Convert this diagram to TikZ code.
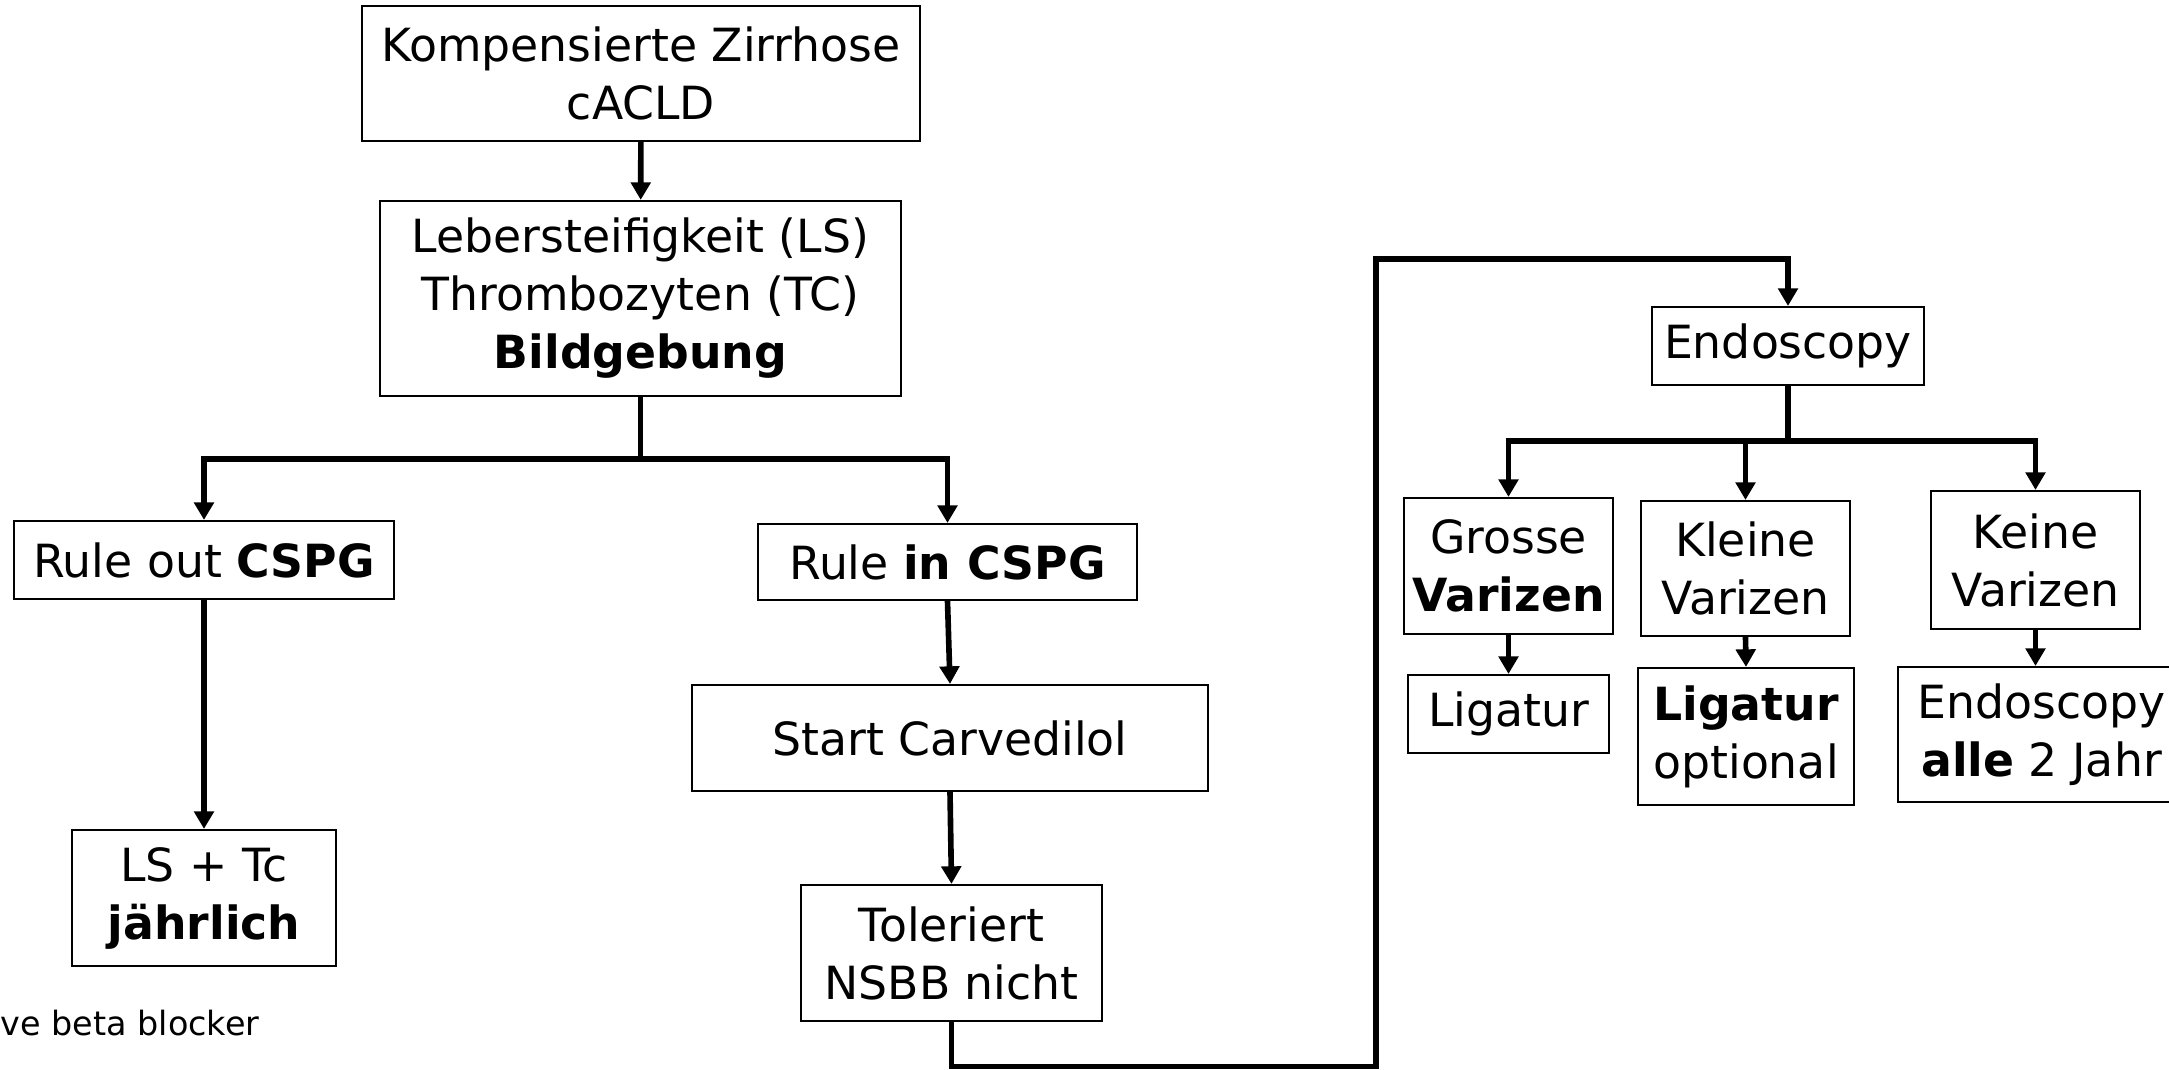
\documentclass[tikz,border=0pt]{standalone}
\usepackage{fontspec}
\setmainfont{DejaVu Sans}
\usetikzlibrary{arrows.meta}
\tikzset{
  box/.style={draw, line width=0.6pt, align=center, inner sep=0pt, font=\fontsize{13}{16.5}\selectfont},
  conn/.style={line width=1.6pt},
  arr/.style={conn, -{Triangle[length=5pt,width=5.5pt]}},
}
\begin{document}
\begin{tikzpicture}[x=0.01cm,y=-0.01cm]
\useasboundingbox (0,0) rectangle (2169,1069);
% left part
\node[box, minimum width=5.58cm, minimum height=1.35cm] (komp) at (641,73.5) {Kompensierte Zirrhose\\cACLD};
\node[box, minimum width=5.21cm, minimum height=1.95cm] (lsb) at (640.5,298.5) {Lebersteifigkeit (LS)\\Thrombozyten (TC)\\\textbf{Bildgebung}};
\node[box, minimum width=3.80cm, minimum height=0.78cm] (rout) at (204,560) {Rule out \textbf{CSPG}};
\node[box, minimum width=3.79cm, minimum height=0.76cm] (rin) at (947.5,562) {Rule \textbf{in CSPG}};
\node[box, minimum width=5.16cm, minimum height=1.06cm] (carv) at (950,738) {Start Carvedilol};
\node[box, minimum width=3.01cm, minimum height=1.36cm] (tol) at (951.5,953) {Toleriert\\NSBB nicht};
\node[box, minimum width=2.64cm, minimum height=1.36cm] (lstc) at (204,898) {LS + Tc\\\textbf{jährlich}};
\node[anchor=base west, inner sep=0pt, font=\fontsize{9.5}{11}\selectfont] (note) at (0,1035) {ve beta blocker};
% right part
\node[box, minimum width=2.72cm, minimum height=0.78cm] (endo) at (1788,346) {Endoscopy};
\node[box, minimum width=2.09cm, minimum height=1.36cm] (gross) at (1508.5,566) {Grosse\\\textbf{Varizen}};
\node[box, minimum width=2.09cm, minimum height=1.35cm] (klein) at (1745.5,568.5) {Kleine\\Varizen};
\node[box, minimum width=2.09cm, minimum height=1.38cm] (kein) at (2035.5,560) {Keine\\Varizen};
\node[box, minimum width=2.01cm, minimum height=0.78cm] (lig) at (1508.5,714) {Ligatur};
\node[box, minimum width=2.16cm, minimum height=1.37cm] (ligopt) at (1746,736.5) {\textbf{Ligatur}\\optional};
\node[box, minimum width=2.87cm, minimum height=1.35cm] (endo2) at (2041.5,734.5) {Endoscopy\\\textbf{alle} 2 Jahr};
% connectors
\coordinate (b1) at (640.5,459);
\coordinate (b2) at (1788,441);
\coordinate (c2) at (1376,1066.5);
\coordinate (c3) at (1376,258.7);
\draw[arr] (komp) -- (lsb);
\draw[conn] (lsb.south) -- (b1);
\draw[arr] (b1) -| (rout.north);
\draw[arr] (b1) -| (rin.north);
\draw[arr] (rout.south) -- (lstc.north);
\draw[arr] (rin.south) -- (carv.north);
\draw[arr] (carv.south) -- (tol.north);
\draw[arr] (tol.south) |- (c2) -- (c3) -| (endo.north);
\draw[conn] (endo.south) -- (b2);
\draw[arr] (b2) -| (gross.north);
\draw[arr] (b2) -| (klein.north);
\draw[arr] (b2) -| (kein.north);
\draw[arr] (gross.south) -- (lig.north);
\draw[arr] (klein.south) -- (ligopt.north);
\draw[arr] (kein.south) -- (endo2.north -| kein.south);
\end{tikzpicture}
\end{document}
